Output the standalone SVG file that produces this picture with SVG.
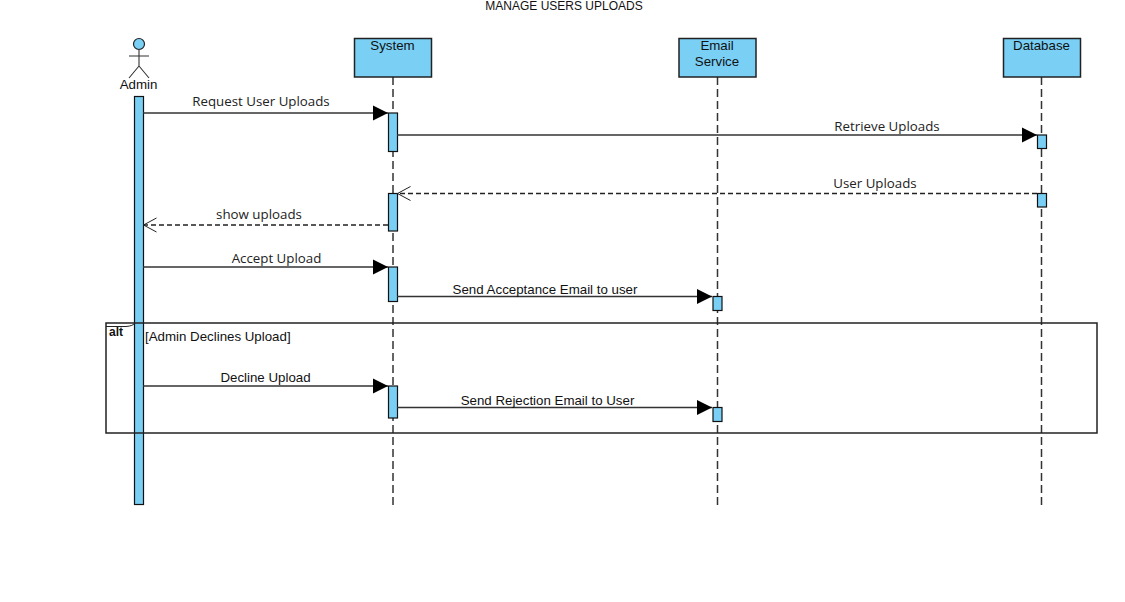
<svg xmlns="http://www.w3.org/2000/svg" width="1125" height="602" viewBox="0 0 1125 602">
<defs>
<marker id="solid" markerUnits="userSpaceOnUse" markerWidth="16" markerHeight="16" refX="15" refY="8" orient="auto"><path d="M0,0.500 L15,8 L0,15.500 Z" fill="#000"/></marker>
<marker id="open" markerUnits="userSpaceOnUse" markerWidth="16" markerHeight="16" refX="14.500" refY="8" orient="auto"><path d="M1,1 L14,8 L1,15" fill="none" stroke="#222" stroke-width="1"/></marker>
</defs>
<style>
text{font-family:"Liberation Sans",Arial,sans-serif;font-size:13.300px;fill:#111}
.m{font-family:"Open Sans","Liberation Sans",sans-serif;font-size:13.300px;fill:#222}
.c{text-anchor:middle}
.box{fill:#7ACFF5;stroke:#222;stroke-width:1.500}
.act{fill:#7ACFF5;stroke:#111;stroke-width:1.200}
.life{stroke:#333;stroke-width:1.500;stroke-dasharray:8 4;fill:none}
.msg{stroke:#333;stroke-width:1.400;fill:none;marker-end:url(#solid)}
.ret{stroke:#222;stroke-width:1.300;stroke-dasharray:5 3;fill:none;marker-end:url(#open)}
</style>
<text class="c" x="564" y="10" style="font-size:12px">MANAGE USERS UPLOADS</text>
<g id="lifelines">
<path class="life" d="M393,77V505"/>
<path class="life" d="M717.500,77V505"/>
<path class="life" d="M1041.500,77V505"/>
</g>
<g id="admin">
<circle cx="139" cy="44" r="5.500" fill="#7ACFF5" stroke="#222" stroke-width="1.200"/>
<path d="M139,50V66M129,56H149M139,66L129,78M139,66L149,78" fill="none" stroke="#333" stroke-width="1.100"/>
<text class="c" x="138.500" y="89">Admin</text>
<rect class="act" x="134.500" y="96.500" width="9" height="408"/>
</g>
<g id="system">
<rect class="box" x="354.500" y="38.500" width="77" height="38.500"/>
<text class="c" x="392.500" y="50">System</text>
<rect class="act" x="388.500" y="113" width="9" height="38.500"/>
<rect class="act" x="388.500" y="193.500" width="9" height="37.500"/>
<rect class="act" x="388.500" y="267" width="9" height="34.500"/>
<rect class="act" x="388.500" y="386" width="9" height="32"/>
</g>
<g id="email-service">
<rect class="box" x="679" y="38.500" width="77" height="38.500"/>
<text class="c" x="717" y="50">Email</text>
<text class="c" x="717" y="66">Service</text>
<rect class="act" x="713" y="296.500" width="9" height="14"/>
<rect class="act" x="713" y="407.500" width="9" height="14"/>
</g>
<g id="database">
<rect class="box" x="1003.500" y="38.500" width="77" height="38.500"/>
<text class="c" x="1041.500" y="50">Database</text>
<rect class="act" x="1037.500" y="135" width="9" height="13.500"/>
<rect class="act" x="1037.500" y="193.500" width="9" height="13.500"/>
</g>
<g id="connectors">
<path class="msg" d="M143,113H388"/>
<path class="msg" d="M397,135H1037"/>
<path class="ret" d="M1037,193.500H397"/>
<path class="ret" d="M388,225H143"/>
<path class="msg" d="M143,267H388"/>
<path class="msg" d="M397,296.500H712"/>
<path class="msg" d="M143,386H388"/>
<path class="msg" d="M397,407.500H712"/>
</g>
<g id="labels">
<text class="m c" x="261" y="106">Request User Uploads</text>
<text class="m c" x="887" y="131">Retrieve Uploads</text>
<text class="m c" x="875" y="188">User Uploads</text>
<text class="m c" x="259" y="219">show uploads</text>
<text class="m c" x="276.500" y="263">Accept Upload</text>
<text class="c" x="545" y="294">Send Acceptance Email to user</text>
<text class="c" x="265.500" y="382">Decline Upload</text>
<text class="c" x="547.500" y="405">Send Rejection Email to User</text>
</g>
<g id="alt-fragment">
<rect x="106" y="323" width="991" height="110" fill="none" stroke="#222" stroke-width="1.500"/>
<path d="M106,326.500H126Q133,326 135,323" fill="none" stroke="#222" stroke-width="1"/>
<text x="109" y="336" style="font-weight:bold;font-size:12px">alt</text>
<text x="145" y="341">[Admin Declines Upload]</text>
</g>
</svg>
